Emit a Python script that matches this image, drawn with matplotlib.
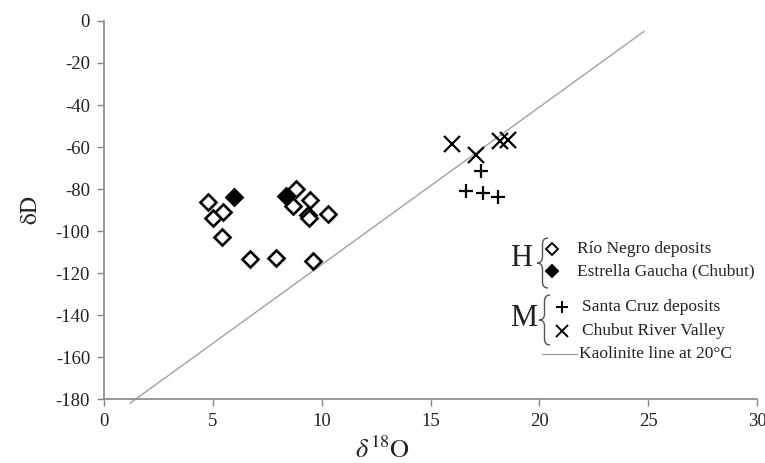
import matplotlib
matplotlib.use("Agg")
import matplotlib.pyplot as plt
from matplotlib.path import Path
from matplotlib.patches import PathPatch
from matplotlib.lines import Line2D

plt.rcParams['font.family'] = 'serif'
plt.rcParams['font.serif'] = ['Liberation Serif', 'DejaVu Serif']
plt.rcParams['mathtext.fontset'] = 'stix'
plt.rcParams['axes.unicode_minus'] = False

# Holocene samples
rio_negro_o = [4.8, 5.0, 5.45, 5.4, 6.7, 7.9, 9.6, 8.8, 8.7, 9.45, 9.35, 9.4, 10.3]
rio_negro_d = [-86, -94, -91, -103, -113.5, -113, -114.5, -80, -88, -85, -92.5, -94, -92]
estrella_o = [5.95, 8.35]
estrella_d = [-84, -83.5]

# Miocene samples
santa_cruz_o = [17.3, 16.65, 17.4, 18.1]
santa_cruz_d = [-71.5, -81, -82, -84]
chubut_o = [16.0, 17.1, 18.2, 18.55]
chubut_d = [-58.5, -64, -57, -56.5]

# kaolinite line end points
kaol_o = [1.2, 24.8]
kaol_d = [-182, -5]

W, H = 765, 463
fig = plt.figure(figsize=(W / 100, H / 100), dpi=100)
ax = fig.add_axes([104 / W, 64 / H, (757 - 104) / W, (399 - 21) / H])


def fx(px):
    return px / W


def fy(py):
    return 1 - py / H


ax.plot(kaol_o, kaol_d, color='#a0a0a0', lw=1.0, clip_on=False, zorder=1)
ax.plot(rio_negro_o, rio_negro_d, ls='none', marker='D', ms=8, mew=1.9,
        mfc='white', mec='black', zorder=3)
ax.plot(estrella_o, estrella_d, ls='none', marker='D', ms=8, mew=1.9,
        mfc='black', mec='black', zorder=3)
ax.plot(santa_cruz_o, santa_cruz_d, ls='none', marker='+', ms=10, mew=1.6,
        color='black', zorder=3)
ax.plot(chubut_o, chubut_d, ls='none', marker='x', ms=11, mew=1.6,
        color='black', zorder=3)

ax.set_xlim(0, 30)
ax.set_ylim(-180, 0)
ax.set_xticks(range(0, 31, 5))
ax.set_yticks(range(-180, 1, 20))
ax.tick_params(direction='out', length=5, color='#888888', width=1,
               labelsize=13.5, pad=5, labelcolor='#222222')
for s in ['top', 'right']:
    ax.spines[s].set_visible(False)
for s in ['left', 'bottom']:
    ax.spines[s].set_color('#888888')
    ax.spines[s].set_linewidth(1.2)

fig.text(fx(382), fy(450), r'$\delta^{18}\mathrm{O}$', fontsize=19,
         ha='center', va='center', color='#222222')
fig.text(fx(32), fy(210), r'$\mathrm{\delta D}$', fontsize=17, rotation=90,
         ha='center', va='center', color='#222222')


def brace(x0, x1, y0, y1):
    # opening curly brace between pixel coords, tip pointing left
    xm = (x0 + x1) / 2
    ym = (y0 + y1) / 2
    c = (y1 - y0) * 0.12
    pts = [(x1, y0), (xm, y0), (xm, y0 + c),
           (xm, ym - c),
           (xm, ym), (x0, ym),
           (xm, ym), (xm, ym + c),
           (xm, y1 - c),
           (xm, y1), (x1, y1)]
    codes = [Path.MOVETO, Path.CURVE3, Path.CURVE3,
             Path.LINETO,
             Path.CURVE3, Path.CURVE3,
             Path.CURVE3, Path.CURVE3,
             Path.LINETO,
             Path.CURVE3, Path.CURVE3]
    verts = [(fx(px), fy(py)) for px, py in pts]
    fig.add_artist(PathPatch(Path(verts, codes), transform=fig.transFigure,
                             fill=False, lw=1.0, ec='#555555'))


leg_fs = 12.5
fig.text(fx(521), fy(259), 'H', fontsize=22, ha='center', va='center', color='#222222')
brace(537, 548, 238, 288)
fig.add_artist(Line2D([fx(552)], [fy(249)], ls='none', marker='D', ms=6.5, mew=1.4,
                      mfc='white', mec='black', transform=fig.transFigure))
fig.add_artist(Line2D([fx(552)], [fy(271)], ls='none', marker='D', ms=6.5, mew=1.4,
                      mfc='black', mec='black', transform=fig.transFigure))
fig.text(fx(577), fy(249), 'Río Negro deposits', fontsize=leg_fs, va='center', color='#222222')
fig.text(fx(577), fy(271), 'Estrella Gaucha (Chubut)', fontsize=leg_fs, va='center', color='#222222')

fig.text(fx(524), fy(319), 'M', fontsize=22, ha='center', va='center', color='#222222')
brace(539, 550, 295, 345)
fig.add_artist(Line2D([fx(562)], [fy(307)], ls='none', marker='+', ms=9, mew=1.4,
                      color='black', transform=fig.transFigure))
fig.add_artist(Line2D([fx(562)], [fy(331)], ls='none', marker='x', ms=8, mew=1.4,
                      color='black', transform=fig.transFigure))
fig.text(fx(582), fy(307), 'Santa Cruz deposits', fontsize=leg_fs, va='center', color='#222222')
fig.text(fx(582), fy(331), 'Chubut River Valley', fontsize=leg_fs, va='center', color='#222222')

fig.add_artist(Line2D([fx(542), fx(577)], [fy(354), fy(354)], color='#a0a0a0', lw=1.0,
                      transform=fig.transFigure))
fig.text(fx(579), fy(354), 'Kaolinite line at 20°C', fontsize=leg_fs, va='center', color='#222222')

fig.savefig('out.png', dpi=100)
